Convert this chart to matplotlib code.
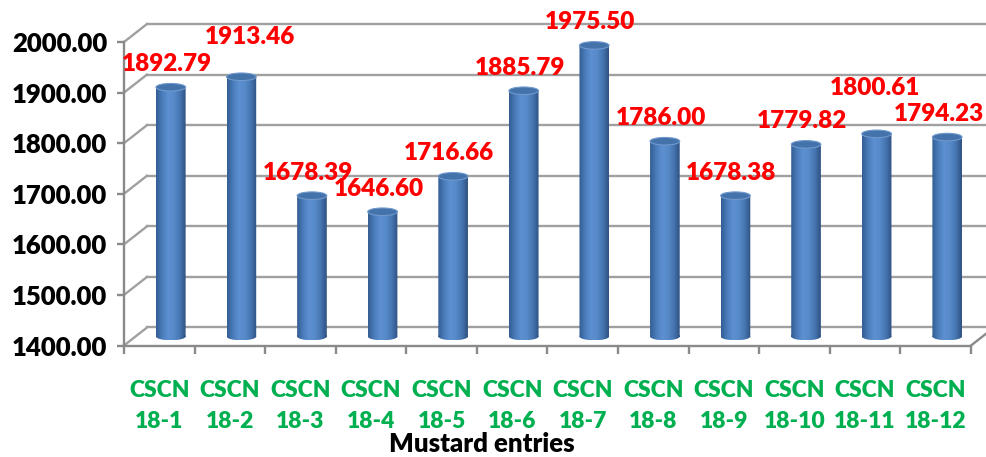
import numpy as np
import matplotlib.pyplot as plt
from matplotlib.patches import Ellipse
from matplotlib.path import Path
from matplotlib.transforms import Affine2D
from matplotlib.colors import LinearSegmentedColormap

entries = ["CSCN\n18-1", "CSCN\n18-2", "CSCN\n18-3", "CSCN\n18-4", "CSCN\n18-5", "CSCN\n18-6",
           "CSCN\n18-7", "CSCN\n18-8", "CSCN\n18-9", "CSCN\n18-10", "CSCN\n18-11", "CSCN\n18-12"]
yields = [1892.79, 1913.46, 1678.39, 1646.60, 1716.66, 1885.79,
          1975.50, 1786.00, 1678.38, 1779.82, 1800.61, 1794.23]
y_ticks = [1400, 1500, 1600, 1700, 1800, 1900, 2000]

plt.rcParams['font.family'] = ['Lato', 'DejaVu Sans']
plt.rcParams['font.weight'] = 'heavy'

fig = plt.figure(figsize=(9.86, 4.57), dpi=100)
ax = fig.add_axes([124 / 986, 111.5 / 457, 847 / 986, 303.5 / 457])
ax.set_facecolor('none')

grid_c = '#a0a0a0'
axis_c = '#8a8a8a'
dx, dy = 0.326, 35.6   # depth shift of the back wall (x in categories, y in data units)
x0, x1 = -0.5, 11.5

# back wall grid + left side wall
for v in y_ticks:
    ax.plot([x0 + dx, x1 + 1], [v + dy, v + dy], color=grid_c, lw=1.7, clip_on=False, zorder=1)
    ax.plot([x0, x0 + dx], [v, v + dy], color=grid_c, lw=1.7, clip_on=False, zorder=1)
# right edge of the floor
ax.plot([x1, x1 + dx], [1400, 1400 + dy], color=axis_c, lw=1.7, clip_on=False, zorder=1)

# cylinders
cyl = LinearSegmentedColormap.from_list(
    'cyl', ['#345d93', '#4a7cba', '#5c90d1', '#578ac9', '#4676b1', '#2e5283'])
grad = np.linspace(0, 1, 80).reshape(1, -1)
w, eh = 0.42, 15
base = 1400 + dy / 2
for i, v in enumerate(yields):
    cx = i + dx / 2
    top = v + dy / 2
    left = cx - w / 2
    rect = Path([(left, base), (left + w, base), (left + w, top), (left, top), (left, base)],
                [Path.MOVETO, Path.LINETO, Path.LINETO, Path.LINETO, Path.CLOSEPOLY])
    ell = Path.unit_circle().transformed(Affine2D().scale(w / 2, eh / 2).translate(cx, base))
    clip = Path.make_compound_path(rect, ell)
    im = ax.imshow(grad, extent=(left, left + w, base - eh / 2, top), aspect='auto',
                   cmap=cyl, interpolation='bilinear', zorder=3)
    im.set_clip_path(clip, ax.transData)
    im.set_clip_box(fig.bbox)
    ax.add_patch(Ellipse((cx, top), w, eh, facecolor='#4473ab', edgecolor='#7099cd',
                         lw=0.8, zorder=4, clip_on=False))

# value labels, a few nudged to stay clear of neighbours and the edge
nudge = {1: (9, 40), 10: (-2, 46), 11: (-8, 23)}
for i, v in enumerate(yields):
    ox, oy = nudge.get(i, (-4, 23))
    ax.annotate(f"{v:.2f}", xy=(i + dx / 2, v + dy / 2), xytext=(ox * 0.72, oy * 0.72),
                textcoords='offset points', ha='center', va='center',
                color='#ff0000', fontsize=17.5, zorder=5, annotation_clip=False)

ax.set_xlim(x0, x1)
ax.set_ylim(1400, 2000)

ax.set_yticks(y_ticks, [f"{t:.2f}" for t in y_ticks])
ax.tick_params(axis='y', length=5, width=1.7, color=axis_c, pad=7, labelsize=18.5)
ax.set_xticks(range(len(entries)), entries)
ax.set_xticks(np.arange(len(entries) + 1) - 0.5, minor=True)
ax.tick_params(axis='x', which='major', length=0, pad=25, labelsize=16.5,
               labelcolor='#00b050')
ax.tick_params(axis='x', which='minor', length=6, width=1.7, color=axis_c)
for lab in ax.get_xticklabels():
    lab.set_linespacing(1.6)

for s in ['top', 'right']:
    ax.spines[s].set_visible(False)
for s in ['left', 'bottom']:
    ax.spines[s].set_color(axis_c)
    ax.spines[s].set_linewidth(1.7)

fig.text(482 / 986, 1 - 452 / 457, "Mustard entries", ha='center', va='baseline',
         fontsize=18.5, color='black')

fig.savefig('out.png', dpi=100)
